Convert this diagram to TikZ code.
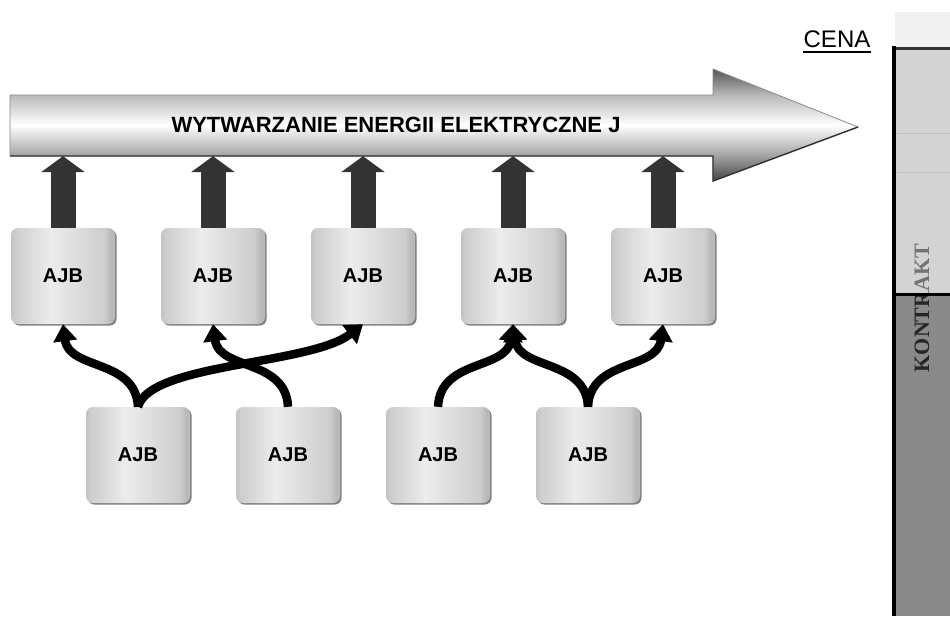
\documentclass[tikz,border=0pt]{standalone}
\usepackage{fontspec}
\setmainfont{Liberation Sans}
\newfontfamily\panelfont{Liberation Serif}
\usetikzlibrary{arrows.meta,shadows}

\definecolor{arrowdark}{HTML}{333333}
\definecolor{boxedge}{HTML}{C2C2C2}
\definecolor{boxside}{HTML}{CDCDCD}
\definecolor{boxlight}{HTML}{ECECEC}
\definecolor{boxright}{HTML}{B9B9B9}
\definecolor{flowtop}{HTML}{555555}
\definecolor{flowbot}{HTML}{454545}
\definecolor{flowmidtop}{HTML}{BCBCBC}
\definecolor{flowmidbot}{HTML}{A8A8A8}
\definecolor{flowline}{HTML}{8A8A8A}
\definecolor{panellight}{HTML}{D3D3D3}
\definecolor{paneldark}{HTML}{8A8A8A}
\definecolor{paneltop}{HTML}{F1F1F1}
\definecolor{panelrule}{HTML}{BDBDBD}

% horizontal gradient of the unit boxes (relevant part: 25bp..75bp)
\pgfdeclarehorizontalshading{boxshade}{100bp}{%
  color(0bp)=(boxedge); color(25bp)=(boxedge); color(27bp)=(boxside);
  color(44bp)=(boxlight); color(70bp)=(boxside); color(73bp)=(boxright);
  color(100bp)=(boxright)}
% vertical gradient of the big process arrow
\pgfdeclareverticalshading{flowshade}{100bp}{%
  color(0bp)=(flowbot); color(25bp)=(flowbot); color(37bp)=(flowmidbot);
  color(50bp)=(white); color(63bp)=(flowmidtop); color(75bp)=(flowtop);
  color(100bp)=(flowtop)}

\begin{document}
\begin{tikzpicture}[x=1pt,y=-1pt,
  unitbox/.style={shading=boxshade, rounded corners=7pt,
    minimum width=104pt, minimum height=96pt, inner sep=0pt,
    font=\fontsize{20}{22}\selectfont\bfseries,
    drop shadow={shadow xshift=1.6pt, shadow yshift=-1.6pt,
      fill=black!50, opacity=1}},
  feed/.style={draw=arrowdark, line width=25pt,
    -{Triangle[width=43pt,length=16pt]}},
  link/.style={draw=black, line width=8.5pt,
    -{Triangle[width=23pt,length=17pt]}},
  title/.style={font=\fontsize{22}{24}\selectfont\bfseries, inner sep=0pt},
  ktext/.style={rotate=90, inner sep=0pt,
    font=\panelfont\fontsize{22}{24}\selectfont\bfseries}
]
\useasboundingbox (0,0) rectangle (950,616);
\fill[white] (0,0) rectangle (950,616);

% ---- big process arrow ----
\path[shading=flowshade, draw=flowline, line width=0.8pt]
  (10,95) -- (713,95) -- (713,69) -- (858,127) -- (713,181)
  -- (713,156) -- (10,156) -- cycle;
\draw[black!80, line width=1.4pt] (10,156) -- (713,156) -- (713,181) -- (858,127);
\node[minimum width=703pt, minimum height=61pt, inner sep=0pt] (shaft) at (361.5,125.5) {};
\node[title] (flowtitle) at (396,125) {WYTWARZANIE ENERGII ELEKTRYCZNE J};

% ---- unit boxes ----
\foreach \i/\x in {1/63,2/213,3/363,4/513,5/663}
  \node[unitbox] (t\i) at (\x,276) {AJB};
\foreach \i/\x in {1/138,2/288,3/438,4/588}
  \node[unitbox] (b\i) at (\x,455) {AJB};

% ---- feeds into the process ----
\foreach \i in {1,...,5}
  \draw[feed] (t\i.north) -- (t\i.north |- shaft.south);

% ---- links between units ----
\draw[link] (b1.north) .. controls +(12,-44) and +(-53,41) .. (t3.south);
\draw[link] (b1.north) .. controls +(-2,-48) and +(6,46) .. (t1.south);
\draw[link] (b2.north) .. controls +(-2,-48) and +(6,46) .. (t2.south);
\draw[link] (b3.north) .. controls +(2,-48) and +(-6,46) .. (t4.south);
\draw[link] (b4.north) .. controls +(-2,-48) and +(6,46) .. (t4.south);
\draw[link] (b4.north) .. controls +(2,-48) and +(-6,46) .. (t5.south);

% ---- price label ----
\node[anchor=base, inner sep=0pt, font=\fontsize{24}{26}\selectfont] (cena) at (837,47) {CENA};
\draw[line width=2.6pt] ([yshift=-5pt]cena.base west) -- ([yshift=-5pt]cena.base east);

% ---- contract panel ----
\fill[paneltop] (895,12) rectangle (950,47);
\fill[panellight] (895,47) rectangle (950,293);
\fill[paneldark] (895,293) rectangle (950,616);
\draw[panelrule, line width=1pt] (897,133) -- (950,133);
\draw[panelrule, line width=1pt] (897,172) -- (950,172);
\begin{scope}
  \clip (897,47) rectangle (950,293);
  \node[ktext, text=black!55] (kontrakt) at (922,308) {KONTRAKT};
\end{scope}
\begin{scope}
  \clip (897,293) rectangle (950,616);
  \node[ktext, text=black!85] (kontraktlow) at (922,308) {KONTRAKT};
\end{scope}
\draw[black!80, line width=2.5pt] (894,48.5) -- (950,48.5);
\draw[black, line width=4pt] (894,46) -- (894,616);
\draw[black, line width=3pt] (894,294) -- (950,294);
\end{tikzpicture}
\end{document}
